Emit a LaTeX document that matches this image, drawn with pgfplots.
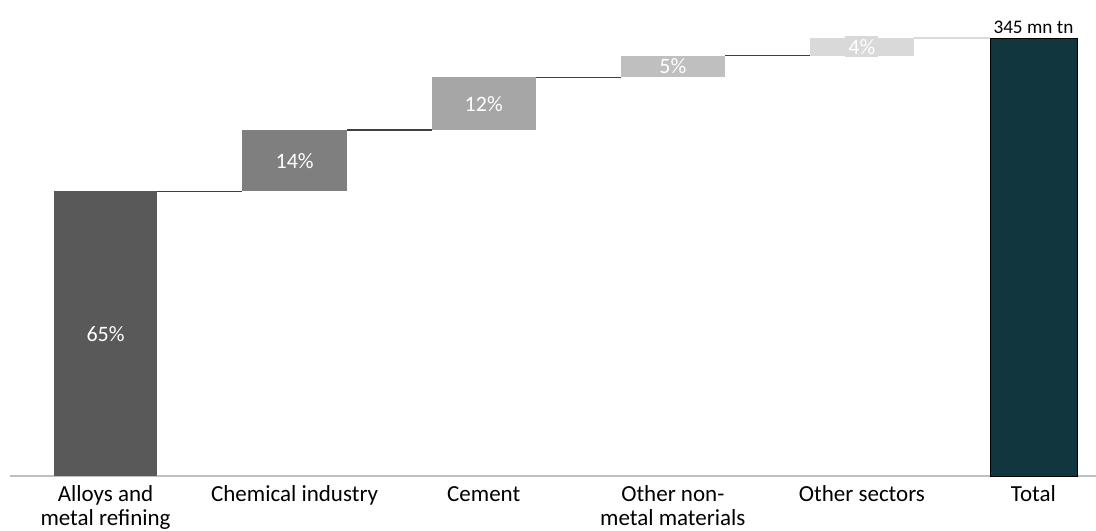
\documentclass[border=0pt]{standalone}
\usepackage{pgfplots}
\pgfplotsset{compat=1.18}
\usepackage{fontspec}
\setmainfont{Carlito}
\definecolor{c1}{HTML}{595959}
\definecolor{c2}{HTML}{7F7F7F}
\definecolor{c3}{HTML}{A6A6A6}
\definecolor{c4}{HTML}{BFBFBF}
\definecolor{c5}{HTML}{D9D9D9}
\definecolor{ctot}{HTML}{12363D}
\definecolor{conn}{HTML}{404040}
\definecolor{axisgray}{HTML}{BFBFBF}
\begin{document}
\begin{tikzpicture}
\begin{axis}[
  scale only axis, width=548pt, height=238pt,
  xmin=-0.558, xmax=5.238, ymin=0, ymax=108.68,
  axis x line=bottom, axis line style={draw=none},
  hide y axis, clip=false,
  xtick={0,1,2,3,4,4.907},
  xticklabels={\strut Alloys and\\metal refining, \strut Chemical industry, \strut Cement, \strut Other non-\\metal materials, \strut Other sectors, \strut Total},
  major tick length=0pt,
  xticklabel style={align=center, font=\fontsize{11.5}{12}\selectfont, yshift=-1pt},
]
\coordinate (SW) at (rel axis cs:0,0);
\coordinate (NE) at (rel axis cs:1,1);
% baseline
\addplot[draw=axisgray, line width=0.7pt] coordinates {(-0.505,0) (5.238,0)};
% bars
\addplot[fill=c1, draw=none] coordinates {(-0.273,0) (0.273,0) (0.273,65) (-0.273,65)} -- cycle;
\addplot[fill=c2, draw=none] coordinates {(0.723,65) (1.277,65) (1.277,79) (0.723,79)} -- cycle;
\addplot[fill=c3, draw=none] coordinates {(1.725,79) (2.275,79) (2.275,91) (1.725,91)} -- cycle;
\addplot[fill=c4, draw=none] coordinates {(2.725,91) (3.275,91) (3.275,96) (2.725,96)} -- cycle;
\addplot[fill=c5, draw=none] coordinates {(3.725,96) (4.275,96) (4.275,100) (3.725,100)} -- cycle;
\addplot[fill=ctot, draw=black, line width=0.4pt] coordinates {(4.677,0) (5.137,0) (5.137,100) (4.677,100)} -- cycle;
% connectors
\addplot[draw=conn, line width=0.6pt] coordinates {(0.273,65) (0.723,65)};
\addplot[draw=conn, line width=0.6pt] coordinates {(1.277,79) (1.725,79)};
\addplot[draw=conn, line width=0.6pt] coordinates {(2.275,91) (2.725,91)};
\addplot[draw=conn, line width=0.6pt] coordinates {(3.275,96) (3.725,96)};
\addplot[draw=c5, line width=0.6pt] coordinates {(4.275,100) (4.677,100)};
% labels
\node[text=white, font=\fontsize{11}{12}\selectfont] at (axis cs:0,32.5) {65\%};
\node[text=white, font=\fontsize{11}{12}\selectfont] at (axis cs:1,72) {14\%};
\node[text=white, font=\fontsize{11}{12}\selectfont] at (axis cs:2,85) {12\%};
\node[text=white, fill=c4, inner sep=1.5pt, font=\fontsize{11}{12}\selectfont] at (axis cs:3,93.5) {5\%};
\node[text=white, fill=c5, inner sep=1.5pt, font=\fontsize{11}{12}\selectfont] at (axis cs:4,98) {4\%};
\node[anchor=south, font=\fontsize{9.6}{11}\selectfont, inner sep=2pt] at (axis cs:4.907,100) {345 mn tn};
\end{axis}
\pgfresetboundingbox
\path (SW) ++(0,-27pt) rectangle (NE);
\end{tikzpicture}
\end{document}
